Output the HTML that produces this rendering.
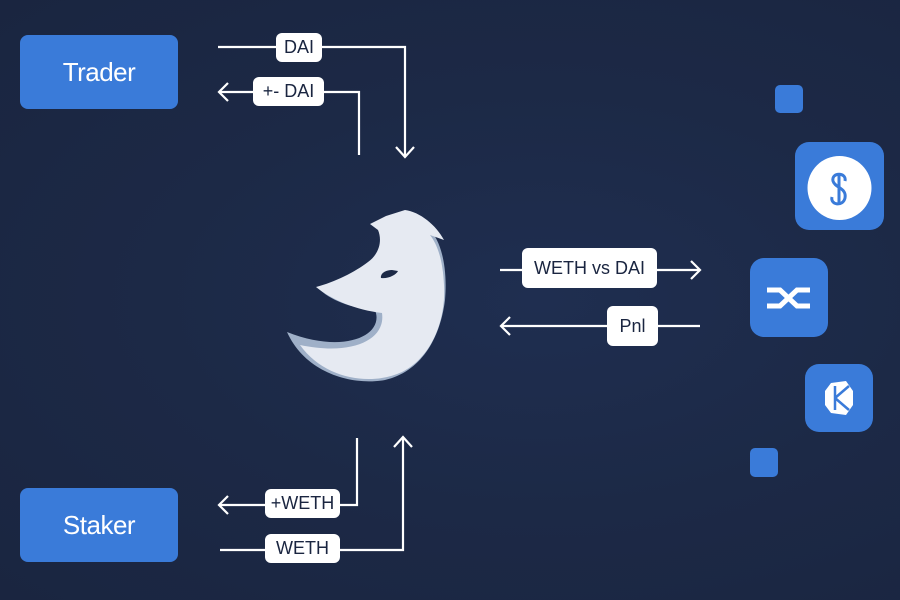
<!DOCTYPE html>
<html><head><meta charset="utf-8"><style>
html,body{margin:0;padding:0}
body{width:900px;height:600px;overflow:hidden;background:radial-gradient(ellipse at 60% 50%,#1f2e50 0%,#1c2946 50%,#1a2540 100%);font-family:"Liberation Sans",sans-serif;position:relative}
.box{position:absolute;background:#3a7bd9;border-radius:8px;color:#fff;font-size:26px;display:flex;align-items:center;justify-content:center;letter-spacing:-0.5px}
.lbl{position:absolute;background:#fff;border-radius:6px;color:#1a2540;font-size:18px;display:flex;align-items:center;justify-content:center}
.sq{position:absolute;background:#3a7bd9;border-radius:5px}
.ic{position:absolute;background:#3a7bd9;border-radius:14px}
</style></head><body>
<div class="box" style="left:20px;top:35px;width:158px;height:74px">Trader</div>
<div class="box" style="left:20px;top:488px;width:158px;height:74px">Staker</div>
<svg width="900" height="600" style="position:absolute;left:0;top:0" fill="none" stroke="#fff" stroke-width="2.2">
<polyline points="218,47 405,47 405,157"/><polyline points="396,147 405,157 414,147"/>
<polyline points="359,155 359,92 219,92"/><polyline points="228,83 219,92 228,101"/>
<polyline points="357,438 357,505 219,505"/><polyline points="228,496 219,505 228,514"/>
<polyline points="220,550 403,550 403,437"/><polyline points="394,447 403,437 412,447"/>
<line x1="500" y1="270" x2="700" y2="270"/><polyline points="691,261 700,270 691,279"/>
<line x1="700" y1="326" x2="501" y2="326"/><polyline points="510,317 501,326 510,335"/>
<g stroke="none">
<path d="M287,332 C305,372 350,386 385,380 C420,372 440,340 445,300 C448,265 440,240 430,230 L390,216 L380,222 C390,235 385,250 372,262 C360,272 340,283 318,288 C330,300 350,308 375,310 C385,335 345,355 287,332 Z" fill="#9fb0c8"/>
<path d="M300,345 C325,380 372,386 402,372 C432,357 446,320 444,285 C443,262 438,245 430,235 L444,240 C436,225 420,212 405,210 L386,216 L370,224 L378,230 C383,242 378,255 368,262 C355,272 335,282 316,287 C332,300 356,310 382,313 C386,340 352,356 300,345 Z" fill="#e6eaf2"/>
<path d="M392,270 C385,270 380,274 381,278 C388,279 396,275 398,271 Z" fill="#1c2946"/>
</g>
</svg>
<div class="lbl" style="left:276px;top:33px;width:46px;height:29px">DAI</div>
<div class="lbl" style="left:253px;top:77px;width:71px;height:29px">+- DAI</div>
<div class="lbl" style="left:265px;top:489px;width:75px;height:29px">+WETH</div>
<div class="lbl" style="left:265px;top:534px;width:75px;height:29px">WETH</div>
<div class="lbl" style="left:522px;top:248px;width:135px;height:40px">WETH vs DAI</div>
<div class="lbl" style="left:607px;top:306px;width:51px;height:40px">Pnl</div>
<div class="sq" style="left:775px;top:85px;width:28px;height:28px"></div>
<div class="sq" style="left:750px;top:448px;width:28px;height:29px"></div>
<div class="ic" style="left:795px;top:142px;width:89px;height:88px">
<svg width="89" height="88" style="position:absolute;left:0;top:0"><circle cx="44.5" cy="46" r="32" fill="#fff"/>
<g fill="none" stroke="#3a7bd9" stroke-width="3"><path d="M50,39 C52,30 36,30 38,39 C40,46 52,46 50,56 C48,65 35,63 37,55"/><line x1="44" y1="32" x2="44" y2="62"/></g></svg></div>
<div class="ic" style="left:750px;top:258px;width:78px;height:79px">
<svg width="78" height="79" style="position:absolute;left:0;top:0" fill="none" stroke="#fff" stroke-width="5"><path d="M17,32 H30 L47,48 H60"/><path d="M17,48 H30 L47,32 H60"/></svg></div>
<div class="ic" style="left:805px;top:364px;width:68px;height:68px">
<svg width="68" height="68" style="position:absolute;left:0;top:0"><path d="M26,19 L41,17 L48,27 L48,41 L41,51 L26,49 L20,41 L20,27 Z" fill="#fff"/><path d="M30,22 L30,46 M30,34 L44,22 M30,34 L44,46" stroke="#3a7bd9" stroke-width="2.5" fill="none"/></svg></div>
</body></html>
